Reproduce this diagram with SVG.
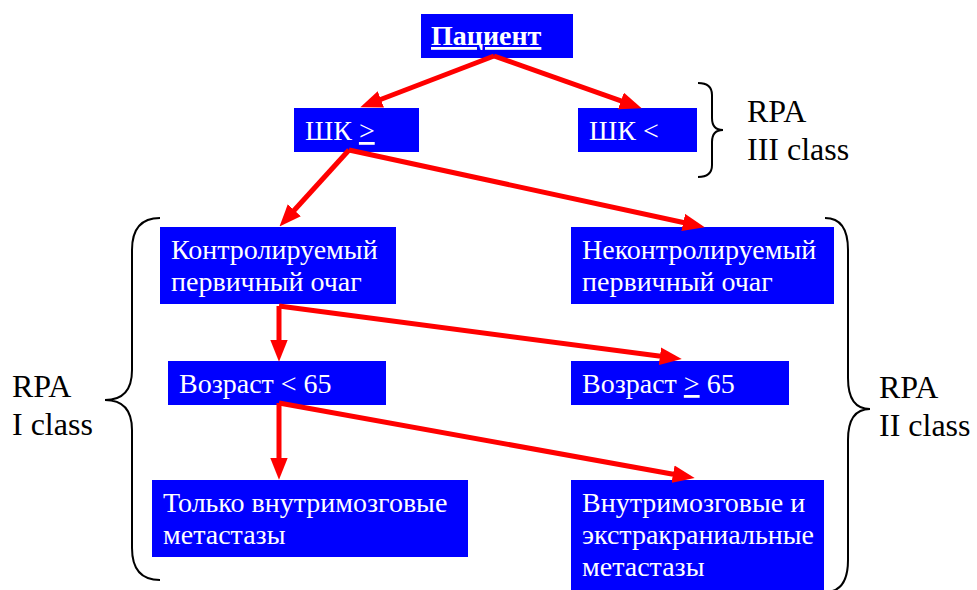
<svg xmlns="http://www.w3.org/2000/svg" width="977" height="590" viewBox="0 0 977 590">
<style>
.box{fill:#0000FF}
.t{font-family:'Liberation Serif','Times New Roman',serif;font-size:28px;fill:#FFFFFF}
.lbl{font-family:'Liberation Serif','Times New Roman',serif;font-size:32px;fill:#000000}
.arr{stroke:#FF0000;stroke-width:5;fill:none;marker-end:url(#ah)}
.br{stroke:#000000;stroke-width:2;fill:none}
.u{text-decoration:underline}
</style>
<defs>
<marker id="ah" markerUnits="userSpaceOnUse" markerWidth="22" markerHeight="18" refX="13" refY="8" orient="auto" viewBox="0 0 20 16">
<path d="M0,0 L20,8 L0,16 z" fill="#FF0000"/>
</marker>
</defs>
<g id="n-patient">
<rect class="box" x="421" y="14" width="152" height="44"/>
<text class="t" x="431" y="45" font-weight="bold" text-decoration="underline">Пациент</text>
</g>
<g id="n-shk-ge">
<rect class="box" x="294" y="108" width="125" height="44"/>
<text class="t" x="305" y="140">ШК <tspan class="u">&gt;</tspan></text>
</g>
<g id="n-shk-lt">
<rect class="box" x="578" y="108" width="119" height="44"/>
<text class="t" x="589" y="140">ШК &lt;</text>
</g>
<g id="n-control">
<rect class="box" x="160" y="227" width="236" height="77"/>
<text class="t" x="171" y="259">Контролируемый</text>
<text class="t" x="171" y="291">первичный очаг</text>
</g>
<g id="n-uncontrol">
<rect class="box" x="571" y="227" width="263" height="77"/>
<text class="t" x="582" y="259">Неконтролируемый</text>
<text class="t" x="582" y="291">первичный очаг</text>
</g>
<g id="n-age-lt">
<rect class="box" x="168" y="361" width="218" height="44"/>
<text class="t" x="179" y="393">Возраст &lt; 65</text>
</g>
<g id="n-age-ge">
<rect class="box" x="571" y="361" width="218" height="44"/>
<text class="t" x="582" y="393">Возраст <tspan class="u">&gt;</tspan> 65</text>
</g>
<g id="n-intra">
<rect class="box" x="152" y="480" width="316" height="77"/>
<text class="t" x="163" y="512">Только внутримозговые</text>
<text class="t" x="163" y="544">метастазы</text>
</g>
<g id="n-extra">
<rect class="box" x="571" y="480" width="253" height="110"/>
<text class="t" x="582" y="512">Внутримозговые и</text>
<text class="t" x="582" y="544">экстракраниальные</text>
<text class="t" x="582" y="576">метастазы</text>
</g>
<g id="connectors">
<line class="arr" x1="494" y1="56" x2="367.5" y2="104.5"/>
<line class="arr" x1="494" y1="56" x2="634.4" y2="105.7"/>
<line class="arr" x1="349" y1="150" x2="284.7" y2="220.8"/>
<line class="arr" x1="349" y1="150" x2="697.2" y2="225.5"/>
<line class="arr" x1="279" y1="306" x2="279" y2="354"/>
<line class="arr" x1="279" y1="306" x2="674.1" y2="358.1"/>
<line class="arr" x1="279" y1="403" x2="279" y2="472"/>
<line class="arr" x1="279" y1="403" x2="687.1" y2="476.7"/>
</g>
<g id="brace-iii">
<path class="br" d="M698,83 Q712,83 712,95 L712,118 Q712,130 723,130 Q712,130 712,142 L712,165 Q712,177 698,177"/>
<text class="lbl" x="747" y="122">RPA</text>
<text class="lbl" x="747" y="160">III class</text>
</g>
<g id="brace-i">
<path class="br" d="M160,218 Q132,218 132,250 L132,370 Q132,400 105,400 Q132,400 132,430 L132,548 Q132,580 160,580"/>
<text class="lbl" x="12" y="397">RPA</text>
<text class="lbl" x="12" y="435">I class</text>
</g>
<g id="brace-ii">
<path class="br" d="M825,218 Q848,218 848,250 L848,378 Q848,409 870,409 Q848,409 848,440 L848,560 Q848,592 825,592"/>
<text class="lbl" x="879" y="398">RPA</text>
<text class="lbl" x="879" y="436">II class</text>
</g>
</svg>
